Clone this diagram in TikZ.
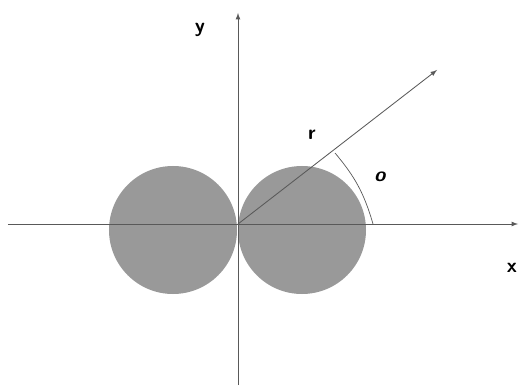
\documentclass[tikz,border=0pt]{standalone}
\usepackage{xcolor}
\usepackage{tikz}
\definecolor{lobe}{gray}{0.6}
\definecolor{axisline}{gray}{0.35}
\tikzset{axisarrow/.style={draw=axisline,line width=0.6pt,-latex},
	lab/.style={font=\Large\bfseries\sffamily,text=black}}
\begin{document}
\begin{tikzpicture}
		\useasboundingbox (-5.95,-4.1) rectangle (7.05,5.6);
		\coordinate (O) at (0,0);
		\coordinate (xl) at (-5.75,0);
		\coordinate (xr) at (7.0,0);
		\coordinate (yb) at (0,-4.025);
		\coordinate (yt) at (0,5.275);
		\coordinate (rt) at (4.975,3.85);
		\coordinate (a1) at (2.425,1.775);
		\coordinate (a2) at (3.375,0);
		% the two lobes
		\fill[lobe] (-1.625,-0.15) circle (1.6);
		\fill[lobe] (1.6,-0.15) circle (1.6);
		% axes and ray
		\draw[axisarrow] (xl) to (xr);
		\draw[axisarrow] (yb) to (yt);
		\draw[axisarrow] (O) to (rt);
		\draw[axisline,line width=0.5pt] (a1) to[bend left=12] (a2);
		\node[lab] (ylab) at (-0.95,4.85) {y};
		\node[lab] (xlab) at (6.85,-1.1) {x};
		\node[lab] (rlab) at (1.85,2.225) {r};
		\node[lab] (tlab) at (3.55,1.175) {\itshape o};
	\end{tikzpicture}
\end{document}
